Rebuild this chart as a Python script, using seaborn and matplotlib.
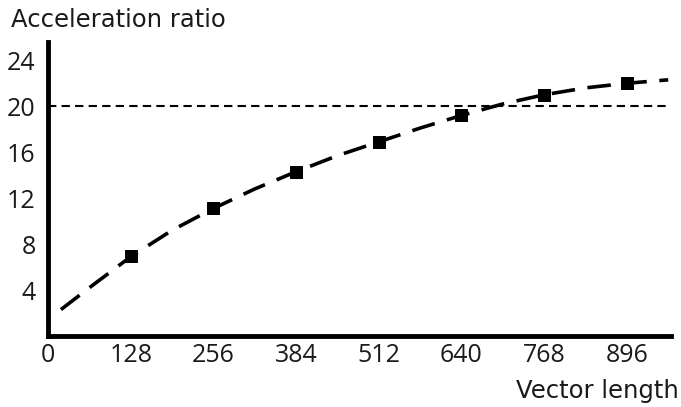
import matplotlib
matplotlib.use("Agg")
import matplotlib.pyplot as plt
import seaborn as sns
import pandas as pd

# measured points
vec_len = [128, 256, 384, 512, 640, 768, 896]
accel = [7.0, 11.1, 14.3, 16.9, 19.2, 21.0, 22.0]

# fitted dashed curve
curve_x = [20, 64, 128, 192, 256, 320, 384, 448, 512, 576, 640, 704, 768, 832, 896, 960]
curve_y = [2.3, 4.2, 6.9, 9.2, 11.1, 12.8, 14.3, 15.7, 16.9, 18.1, 19.2, 20.2, 21.0, 21.6, 22.0, 22.3]

# reference line
ref_x = [0, 960]
ref_y = [20, 20]

x_ticks = [0, 128, 256, 384, 512, 640, 768, 896]
y_ticks = [4, 8, 12, 16, 20, 24]

sns.set_style("white")
plt.rcParams['font.family'] = ['Open Sans', 'DejaVu Sans']

fig = plt.figure(figsize=(6.81, 4.07), dpi=100)
ax = fig.add_axes([0.0705, 0.1745, 0.9145, 0.7225])

sns.lineplot(x=ref_x, y=ref_y, ax=ax, color="black", linewidth=1.5,
             linestyle=(0, (4, 2.5)))
sns.lineplot(x=curve_x, y=curve_y, ax=ax, color="black", linewidth=2.6,
             linestyle=(0, (6.5, 3.5)))
sns.scatterplot(x=vec_len, y=accel, ax=ax, marker="s", s=80, color="black",
                edgecolor="black", zorder=5)

ax.set_xlim(0, 964)
ax.set_ylim(0, 25.6)
ax.set_xticks(x_ticks)
ax.set_yticks(y_ticks)
ax.set_xticklabels([str(t) for t in x_ticks])
ax.set_yticklabels([str(t) for t in y_ticks])
ax.tick_params(direction="in", length=6, width=2, labelsize=18, colors="#1a1a1a", pad=5)
ax.tick_params(axis="y", pad=9)
for s in ["top", "right"]:
    ax.spines[s].set_visible(False)
for s in ["left", "bottom"]:
    ax.spines[s].set_linewidth(3.5)
    ax.spines[s].set_color("black")

fig.text(0.016, 0.98, "Acceleration ratio", ha="left", va="top", fontsize=17.5,
         color="#1a1a1a", family="DejaVu Sans")
fig.text(0.997, 0.01, "Vector length", ha="right", va="bottom", fontsize=17.5,
         color="#1a1a1a", family="DejaVu Sans")

fig.savefig("out.png", dpi=100, facecolor="white")
